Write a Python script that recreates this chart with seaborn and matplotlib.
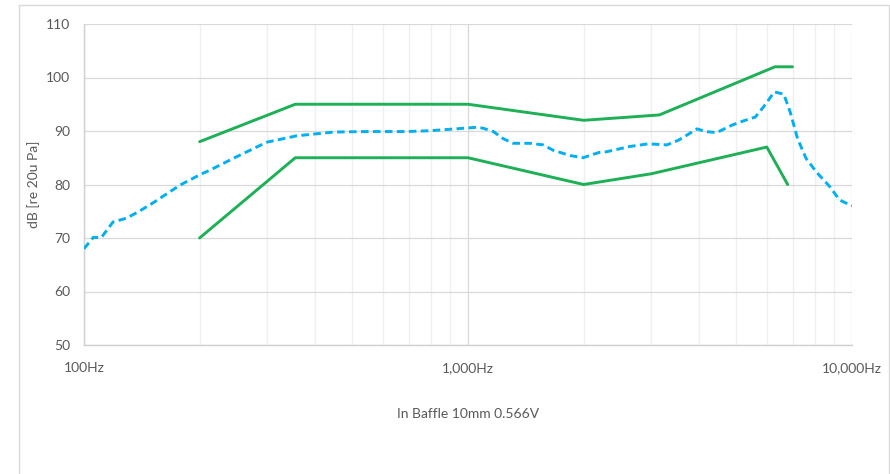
import matplotlib
matplotlib.use("Agg")
import matplotlib.pyplot as plt
import matplotlib.ticker as mticker
from matplotlib.patches import Rectangle
import seaborn as sns
import pandas as pd

# ---- data ----
upper_freq = [200, 355, 1000, 2000, 3150, 6300, 7000]
upper_db = [88, 95, 95, 92, 93, 102, 102]

lower_freq = [200, 355, 1000, 2000, 3000, 6000, 6800]
lower_db = [70, 85, 85, 80, 82, 87, 80]

meas_freq = [100, 105.7, 111, 119, 129, 138.5, 150, 178, 200, 213, 245, 299, 358,
             446, 550, 693, 795, 970, 1058, 1097, 1164, 1233, 1311, 1450, 1571,
             1666, 1847, 1993, 2196, 2288, 2638, 2945, 3295, 3537, 3952, 4152,
             4442, 4870, 5222, 5598, 5882, 6273, 6641, 6920, 7212, 7590, 8061,
             8750, 9286, 9858, 10000]
meas_db = [68.0, 70.1, 70.1, 73.0, 73.7, 74.9, 76.4, 79.9, 81.8, 82.7, 84.9, 87.9, 89.1,
           89.8, 89.9, 89.9, 90.05, 90.5, 90.7, 90.5, 89.9, 88.6, 87.7, 87.7, 87.4,
           86.4, 85.4, 85.0, 86.0, 86.1, 87.1, 87.6, 87.4, 88.3, 90.4, 89.9,
           89.7, 91.1, 91.9, 92.6, 94.5, 97.3, 96.9, 93.3, 88.6, 84.9, 82.4,
           79.6, 77.1, 76.2, 76.0]

x_ticks = [100, 1000, 10000]
x_tick_labels = ["100Hz", "1,000Hz", "10,000Hz"]
y_ticks = [50, 60, 70, 80, 90, 100, 110]

x_title = "In Baffle 10mm 0.566V"
y_title = "dB [re 20u Pa]"

# ---- style ----
sns.set_theme(style="white")
plt.rcParams['font.family'] = ['Lato', 'DejaVu Sans']

GREEN = "#1DB056"
BLUE = "#00B0F0"
TXT = "#595959"

fig = plt.figure(figsize=(8.9, 4.74), dpi=100)
fig.patches.append(Rectangle((19 / 890, -0.1), 870 / 890, 1.1 - 5 / 474,
                             transform=fig.transFigure, fill=False,
                             edgecolor="#d9d9d9", linewidth=1.0, zorder=0))
ax = fig.add_axes([84 / 890, 1 - 345 / 474, 768 / 890, 321 / 474])

df_u = pd.DataFrame({"f": upper_freq, "db": upper_db})
df_l = pd.DataFrame({"f": lower_freq, "db": lower_db})
df_m = pd.DataFrame({"f": meas_freq, "db": meas_db})

sns.lineplot(data=df_u, x="f", y="db", ax=ax, color=GREEN, linewidth=2.1, sort=False, zorder=3)
sns.lineplot(data=df_l, x="f", y="db", ax=ax, color=GREEN, linewidth=2.1, sort=False, zorder=3)
sns.lineplot(data=df_m, x="f", y="db", ax=ax, color=BLUE, linewidth=2.1, sort=False,
             zorder=4, dashes=False)
ax.lines[-1].set_linestyle((0, (2.6, 1.5)))

ax.set_xscale("log")
ax.set_xlim(100, 10000)
ax.set_ylim(50, 110)
ax.set_xticks(x_ticks)
ax.set_xticklabels(x_tick_labels)
ax.xaxis.set_minor_locator(mticker.LogLocator(base=10, subs=range(2, 10)))
ax.xaxis.set_minor_formatter(mticker.NullFormatter())
ax.set_yticks(y_ticks)

ax.grid(which="major", axis="both", color="#d9d9d9", linewidth=0.9)
ax.grid(which="minor", axis="x", color="#efefef", linewidth=0.9)
ax.set_axisbelow(True)

for s in ["top", "right"]:
    ax.spines[s].set_visible(False)
for s in ["left", "bottom"]:
    ax.spines[s].set_color("#d0d0d0")
    ax.spines[s].set_linewidth(1.0)

ax.tick_params(axis="both", which="both", length=0, colors=TXT, labelsize=10)
ax.tick_params(axis="x", pad=12)
ax.tick_params(axis="y", pad=10)

ax.set_xlabel(x_title, color=TXT, fontsize=10, labelpad=25)
ax.set_ylabel(y_title, color=TXT, fontsize=10, labelpad=4)

fig.savefig("out.png", dpi=100)
